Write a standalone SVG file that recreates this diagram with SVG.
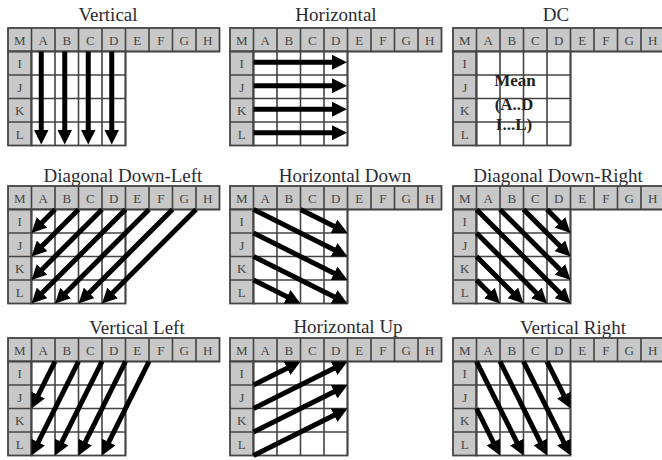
<svg xmlns="http://www.w3.org/2000/svg" width="662" height="460" viewBox="0 0 662 460">
<style>
.g{fill:#c8c8c8;stroke:#444;stroke-width:1.8}
.w{fill:#fff;stroke:#444;stroke-width:1.8}
.ln{fill:none;stroke:#444;stroke-width:1.6}
.lbl{font-family:"Liberation Serif",serif;font-size:13px;fill:#444;text-anchor:middle}
.ttl{font-family:"Liberation Serif",serif;font-size:19px;fill:#2b2b33;text-anchor:middle}
.dc{font-family:"Liberation Serif",serif;font-size:17px;font-weight:bold;fill:#222;text-anchor:middle}
.arr{fill:none;stroke:#000;stroke-width:5;marker-end:url(#ah)}
</style>
<defs>
<marker id="ah" markerUnits="userSpaceOnUse" viewBox="0 0 15 15" markerWidth="15" markerHeight="15" refX="5" refY="7.5" orient="auto"><path d="M0,0L15,7.5L0,15z" fill="#000"/></marker>
</defs>
<rect width="662" height="460" fill="#fff"/>

<g id="p-vertical">
<text class="ttl" x="108" y="21">Vertical</text>
<g transform="translate(8,28)">
<rect class="g" x="0" y="0" width="211.5" height="23.5"/><rect class="g" x="0" y="23.5" width="23.5" height="94"/><rect class="w" x="23.5" y="23.5" width="94" height="94"/>
<path class="ln" d="M23.5,0V117.5M47,0V117.5M70.5,0V117.5M94,0V117.5M117.5,0V117.5M141,0V23.5M164.5,0V23.5M188,0V23.5M0,23.5H211.5M0,47H117.5M0,70.5H117.5M0,94H117.5"/>
<text class="lbl" x="11.75" y="16.5">M</text><text class="lbl" x="35.25" y="16.5">A</text><text class="lbl" x="58.75" y="16.5">B</text><text class="lbl" x="82.25" y="16.5">C</text><text class="lbl" x="105.75" y="16.5">D</text><text class="lbl" x="129.25" y="16.5">E</text><text class="lbl" x="152.75" y="16.5">F</text><text class="lbl" x="176.25" y="16.5">G</text><text class="lbl" x="199.75" y="16.5">H</text>
<text class="lbl" x="11.75" y="40">I</text><text class="lbl" x="11.75" y="63.5">J</text><text class="lbl" x="11.75" y="87">K</text><text class="lbl" x="11.75" y="110.5">L</text>
</g>
</g>

<g id="p-horizontal">
<text class="ttl" x="336" y="21">Horizontal</text>
<g transform="translate(230,28)">
<rect class="g" x="0" y="0" width="211.5" height="23.5"/><rect class="g" x="0" y="23.5" width="23.5" height="94"/><rect class="w" x="23.5" y="23.5" width="94" height="94"/>
<path class="ln" d="M23.5,0V117.5M47,0V117.5M70.5,0V117.5M94,0V117.5M117.5,0V117.5M141,0V23.5M164.5,0V23.5M188,0V23.5M0,23.5H211.5M0,47H117.5M0,70.5H117.5M0,94H117.5"/>
<text class="lbl" x="11.75" y="16.5">M</text><text class="lbl" x="35.25" y="16.5">A</text><text class="lbl" x="58.75" y="16.5">B</text><text class="lbl" x="82.25" y="16.5">C</text><text class="lbl" x="105.75" y="16.5">D</text><text class="lbl" x="129.25" y="16.5">E</text><text class="lbl" x="152.75" y="16.5">F</text><text class="lbl" x="176.25" y="16.5">G</text><text class="lbl" x="199.75" y="16.5">H</text>
<text class="lbl" x="11.75" y="40">I</text><text class="lbl" x="11.75" y="63.5">J</text><text class="lbl" x="11.75" y="87">K</text><text class="lbl" x="11.75" y="110.5">L</text>
</g>
</g>

<g id="p-dc">
<text class="ttl" x="556" y="21">DC</text>
<g transform="translate(453,28)">
<rect class="g" x="0" y="0" width="211.5" height="23.5"/><rect class="g" x="0" y="23.5" width="23.5" height="94"/><rect class="w" x="23.5" y="23.5" width="94" height="94"/>
<path class="ln" d="M23.5,0V117.5M47,0V117.5M70.5,0V117.5M94,0V117.5M117.5,0V117.5M141,0V23.5M164.5,0V23.5M188,0V23.5M0,23.5H211.5M0,47H117.5M0,70.5H117.5M0,94H117.5"/>
<text class="lbl" x="11.75" y="16.5">M</text><text class="lbl" x="35.25" y="16.5">A</text><text class="lbl" x="58.75" y="16.5">B</text><text class="lbl" x="82.25" y="16.5">C</text><text class="lbl" x="105.75" y="16.5">D</text><text class="lbl" x="129.25" y="16.5">E</text><text class="lbl" x="152.75" y="16.5">F</text><text class="lbl" x="176.25" y="16.5">G</text><text class="lbl" x="199.75" y="16.5">H</text>
<text class="lbl" x="11.75" y="40">I</text><text class="lbl" x="11.75" y="63.5">J</text><text class="lbl" x="11.75" y="87">K</text><text class="lbl" x="11.75" y="110.5">L</text>
</g>
<text class="dc" x="515" y="85.5">Mean</text>
<text class="dc" x="514" y="110">(A..D</text>
<text class="dc" x="514" y="129.5">I...L)</text>
</g>

<g id="p-diagonal-down-left">
<text class="ttl" x="123" y="182">Diagonal Down-Left</text>
<g transform="translate(8,186)">
<rect class="g" x="0" y="0" width="211.5" height="23.5"/><rect class="g" x="0" y="23.5" width="23.5" height="94"/><rect class="w" x="23.5" y="23.5" width="94" height="94"/>
<path class="ln" d="M23.5,0V117.5M47,0V117.5M70.5,0V117.5M94,0V117.5M117.5,0V117.5M141,0V23.5M164.5,0V23.5M188,0V23.5M0,23.5H211.5M0,47H117.5M0,70.5H117.5M0,94H117.5"/>
<text class="lbl" x="11.75" y="16.5">M</text><text class="lbl" x="35.25" y="16.5">A</text><text class="lbl" x="58.75" y="16.5">B</text><text class="lbl" x="82.25" y="16.5">C</text><text class="lbl" x="105.75" y="16.5">D</text><text class="lbl" x="129.25" y="16.5">E</text><text class="lbl" x="152.75" y="16.5">F</text><text class="lbl" x="176.25" y="16.5">G</text><text class="lbl" x="199.75" y="16.5">H</text>
<text class="lbl" x="11.75" y="40">I</text><text class="lbl" x="11.75" y="63.5">J</text><text class="lbl" x="11.75" y="87">K</text><text class="lbl" x="11.75" y="110.5">L</text>
</g>
</g>

<g id="p-horizontal-down">
<text class="ttl" x="345" y="182">Horizontal Down</text>
<g transform="translate(230,186)">
<rect class="g" x="0" y="0" width="211.5" height="23.5"/><rect class="g" x="0" y="23.5" width="23.5" height="94"/><rect class="w" x="23.5" y="23.5" width="94" height="94"/>
<path class="ln" d="M23.5,0V117.5M47,0V117.5M70.5,0V117.5M94,0V117.5M117.5,0V117.5M141,0V23.5M164.5,0V23.5M188,0V23.5M0,23.5H211.5M0,47H117.5M0,70.5H117.5M0,94H117.5"/>
<text class="lbl" x="11.75" y="16.5">M</text><text class="lbl" x="35.25" y="16.5">A</text><text class="lbl" x="58.75" y="16.5">B</text><text class="lbl" x="82.25" y="16.5">C</text><text class="lbl" x="105.75" y="16.5">D</text><text class="lbl" x="129.25" y="16.5">E</text><text class="lbl" x="152.75" y="16.5">F</text><text class="lbl" x="176.25" y="16.5">G</text><text class="lbl" x="199.75" y="16.5">H</text>
<text class="lbl" x="11.75" y="40">I</text><text class="lbl" x="11.75" y="63.5">J</text><text class="lbl" x="11.75" y="87">K</text><text class="lbl" x="11.75" y="110.5">L</text>
</g>
</g>

<g id="p-diagonal-down-right">
<text class="ttl" x="558" y="182">Diagonal Down-Right</text>
<g transform="translate(453,186)">
<rect class="g" x="0" y="0" width="211.5" height="23.5"/><rect class="g" x="0" y="23.5" width="23.5" height="94"/><rect class="w" x="23.5" y="23.5" width="94" height="94"/>
<path class="ln" d="M23.5,0V117.5M47,0V117.5M70.5,0V117.5M94,0V117.5M117.5,0V117.5M141,0V23.5M164.5,0V23.5M188,0V23.5M0,23.5H211.5M0,47H117.5M0,70.5H117.5M0,94H117.5"/>
<text class="lbl" x="11.75" y="16.5">M</text><text class="lbl" x="35.25" y="16.5">A</text><text class="lbl" x="58.75" y="16.5">B</text><text class="lbl" x="82.25" y="16.5">C</text><text class="lbl" x="105.75" y="16.5">D</text><text class="lbl" x="129.25" y="16.5">E</text><text class="lbl" x="152.75" y="16.5">F</text><text class="lbl" x="176.25" y="16.5">G</text><text class="lbl" x="199.75" y="16.5">H</text>
<text class="lbl" x="11.75" y="40">I</text><text class="lbl" x="11.75" y="63.5">J</text><text class="lbl" x="11.75" y="87">K</text><text class="lbl" x="11.75" y="110.5">L</text>
</g>
</g>

<g id="p-vertical-left">
<text class="ttl" x="137" y="334">Vertical Left</text>
<g transform="translate(8,338)">
<rect class="g" x="0" y="0" width="211.5" height="23.5"/><rect class="g" x="0" y="23.5" width="23.5" height="94"/><rect class="w" x="23.5" y="23.5" width="94" height="94"/>
<path class="ln" d="M23.5,0V117.5M47,0V117.5M70.5,0V117.5M94,0V117.5M117.5,0V117.5M141,0V23.5M164.5,0V23.5M188,0V23.5M0,23.5H211.5M0,47H117.5M0,70.5H117.5M0,94H117.5"/>
<text class="lbl" x="11.75" y="16.5">M</text><text class="lbl" x="35.25" y="16.5">A</text><text class="lbl" x="58.75" y="16.5">B</text><text class="lbl" x="82.25" y="16.5">C</text><text class="lbl" x="105.75" y="16.5">D</text><text class="lbl" x="129.25" y="16.5">E</text><text class="lbl" x="152.75" y="16.5">F</text><text class="lbl" x="176.25" y="16.5">G</text><text class="lbl" x="199.75" y="16.5">H</text>
<text class="lbl" x="11.75" y="40">I</text><text class="lbl" x="11.75" y="63.5">J</text><text class="lbl" x="11.75" y="87">K</text><text class="lbl" x="11.75" y="110.5">L</text>
</g>
</g>

<g id="p-horizontal-up">
<text class="ttl" x="348" y="333">Horizontal Up</text>
<g transform="translate(230,338)">
<rect class="g" x="0" y="0" width="211.5" height="23.5"/><rect class="g" x="0" y="23.5" width="23.5" height="94"/><rect class="w" x="23.5" y="23.5" width="94" height="94"/>
<path class="ln" d="M23.5,0V117.5M47,0V117.5M70.5,0V117.5M94,0V117.5M117.5,0V117.5M141,0V23.5M164.5,0V23.5M188,0V23.5M0,23.5H211.5M0,47H117.5M0,70.5H117.5M0,94H117.5"/>
<text class="lbl" x="11.75" y="16.5">M</text><text class="lbl" x="35.25" y="16.5">A</text><text class="lbl" x="58.75" y="16.5">B</text><text class="lbl" x="82.25" y="16.5">C</text><text class="lbl" x="105.75" y="16.5">D</text><text class="lbl" x="129.25" y="16.5">E</text><text class="lbl" x="152.75" y="16.5">F</text><text class="lbl" x="176.25" y="16.5">G</text><text class="lbl" x="199.75" y="16.5">H</text>
<text class="lbl" x="11.75" y="40">I</text><text class="lbl" x="11.75" y="63.5">J</text><text class="lbl" x="11.75" y="87">K</text><text class="lbl" x="11.75" y="110.5">L</text>
</g>
</g>

<g id="p-vertical-right">
<text class="ttl" x="573" y="334">Vertical Right</text>
<g transform="translate(453,338)">
<rect class="g" x="0" y="0" width="211.5" height="23.5"/><rect class="g" x="0" y="23.5" width="23.5" height="94"/><rect class="w" x="23.5" y="23.5" width="94" height="94"/>
<path class="ln" d="M23.5,0V117.5M47,0V117.5M70.5,0V117.5M94,0V117.5M117.5,0V117.5M141,0V23.5M164.5,0V23.5M188,0V23.5M0,23.5H211.5M0,47H117.5M0,70.5H117.5M0,94H117.5"/>
<text class="lbl" x="11.75" y="16.5">M</text><text class="lbl" x="35.25" y="16.5">A</text><text class="lbl" x="58.75" y="16.5">B</text><text class="lbl" x="82.25" y="16.5">C</text><text class="lbl" x="105.75" y="16.5">D</text><text class="lbl" x="129.25" y="16.5">E</text><text class="lbl" x="152.75" y="16.5">F</text><text class="lbl" x="176.25" y="16.5">G</text><text class="lbl" x="199.75" y="16.5">H</text>
<text class="lbl" x="11.75" y="40">I</text><text class="lbl" x="11.75" y="63.5">J</text><text class="lbl" x="11.75" y="87">K</text><text class="lbl" x="11.75" y="110.5">L</text>
</g>
</g>

<g id="connectors">
<g id="a-vertical" transform="translate(8,28)">
<path class="arr" d="M33.25,23.5V106.5"/><path class="arr" d="M56.75,23.5V106.5"/><path class="arr" d="M80.25,23.5V106.5"/><path class="arr" d="M103.75,23.5V106.5"/>
</g>
<g id="a-horizontal" transform="translate(230,28)">
<path class="arr" d="M23.5,34.25H107"/><path class="arr" d="M23.5,57.75H107"/><path class="arr" d="M23.5,81.25H107"/><path class="arr" d="M23.5,104.75H107"/>
</g>
<g id="a-ddl" transform="translate(8,186)">
<path class="arr" d="M47,23.5L30.57,39.93"/><path class="arr" d="M70.5,23.5L30.57,63.43"/><path class="arr" d="M94,23.5L30.57,86.93"/><path class="arr" d="M117.5,23.5L30.57,110.43"/><path class="arr" d="M141,23.5L54.07,110.43"/><path class="arr" d="M164.5,23.5L77.57,110.43"/><path class="arr" d="M188,23.5L101.07,110.43"/>
</g>
<g id="a-hd" transform="translate(230,186)">
<path class="arr" d="M70.5,23.5L108.56,42.53"/><path class="arr" d="M23.5,23.5L108.56,66.03"/><path class="arr" d="M23.5,47L108.56,89.53"/><path class="arr" d="M23.5,70.5L108.56,113.03"/><path class="arr" d="M23.5,94L61.56,113.03"/>
</g>
<g id="a-ddr" transform="translate(453,186)">
<path class="arr" d="M94,23.5L110.43,39.93"/><path class="arr" d="M70.5,23.5L110.43,63.43"/><path class="arr" d="M47,23.5L110.43,86.93"/><path class="arr" d="M23.5,23.5L110.43,110.43"/><path class="arr" d="M23.5,47L86.93,110.43"/><path class="arr" d="M23.5,70.5L63.43,110.43"/><path class="arr" d="M23.5,94L39.93,110.43"/>
</g>
<g id="a-vl" transform="translate(8,338)">
<path class="arr" d="M47,23.5L27.97,61.56"/><path class="arr" d="M70.5,23.5L27.97,108.56"/><path class="arr" d="M94,23.5L51.47,108.56"/><path class="arr" d="M117.5,23.5L74.97,108.56"/><path class="arr" d="M141,23.5L98.47,108.56"/>
</g>
<g id="a-hu" transform="translate(230,338)">
<path class="arr" d="M23.5,47L61.56,27.97"/><path class="arr" d="M23.5,70.5L108.56,27.97"/><path class="arr" d="M23.5,94L108.56,51.47"/><path class="arr" d="M23.5,117.5L108.56,74.97"/>
</g>
<g id="a-vr" transform="translate(453,338)">
<path class="arr" d="M23.5,23.5L66.03,108.56"/><path class="arr" d="M47,23.5L89.53,108.56"/><path class="arr" d="M70.5,23.5L113.03,108.56"/><path class="arr" d="M94,23.5L113.03,61.56"/><path class="arr" d="M23.5,70.5L42.53,108.56"/>
</g>
</g>
</svg>
